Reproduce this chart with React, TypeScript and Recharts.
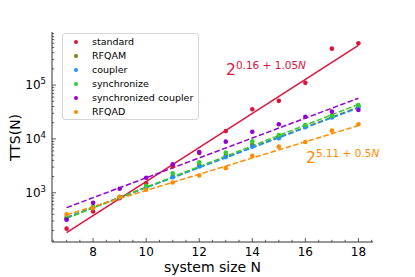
import { ComposedChart, Scatter, Line, XAxis, YAxis, Customized } from 'recharts';

const FONT = '"DejaVu Sans", sans-serif';

// system sizes N and measured time-to-solution values
const sizes = [7, 8, 9, 10, 11, 12, 13, 14, 15, 16, 17, 18];
const standard = [216, 450, 790, 1500, 3100, 5500, 14000, 35500, 51000, 110000, 475000, 600000];
const rfqam = [335, 540, 830, 1290, 2050, 3300, 4900, 7800, 11000, 17500, 27000, 40000];
const coupler = [321, 530, 820, 1250, 1950, 3070, 4600, 7200, 10300, 16500, 25000, 38000];
const synchronize = [350, 560, 830, 1350, 2300, 3700, 5600, 9000, 11800, 18200, 26700, 42500];
const synchronizedCoupler = [317, 650, 1190, 1900, 3400, 5700, 8900, 13600, 18700, 25900, 32100, 34400];
const rfqad = [398, 520, 840, 1140, 1550, 2090, 2870, 4840, 7200, 8800, 14250, 18800];

// fitted lines, value at N=7 and N=18
const fitSizes = [7, 18];
const standardFit = [182, 546000];
const rfqamFit = [350, 39000];
const couplerFit = [345, 37800];
const synchronizeFit = [335, 43800];
const synchronizedCouplerFit = [530, 57000];
const rfqadFit = [391, 17700];

const xTicks = [6.5, 7, 7.5, 8, 8.5, 9, 9.5, 10, 10.5, 11, 11.5, 12, 12.5, 13, 13.5, 14, 14.5, 15, 15.5, 16, 16.5, 17, 17.5, 18, 18.5];
const xLabels = [8, 10, 12, 14, 16, 18];
const yTicks = [
  200, 300, 400, 500, 600, 700, 800, 900,
  1000, 2000, 3000, 4000, 5000, 6000, 7000, 8000, 9000,
  10000, 20000, 30000, 40000, 50000, 60000, 70000, 80000, 90000,
  100000, 200000, 300000, 400000, 500000, 600000, 700000, 800000, 900000,
];
const yLabels = [1000, 10000, 100000];

const series = [
  { name: 'standard', color: '#dc143c', values: standard, fit: standardFit, dash: undefined },
  { name: 'RFQAM', color: '#808000', values: rfqam, fit: rfqamFit, dash: '5.5 2.4' },
  { name: 'coupler', color: '#1e90ff', values: coupler, fit: couplerFit, dash: '5.5 2.4' },
  { name: 'synchronize', color: '#32cd32', values: synchronize, fit: synchronizeFit, dash: '5.5 2.4' },
  { name: 'synchronized coupler', color: '#9400d3', values: synchronizedCoupler, fit: synchronizedCouplerFit, dash: '5.5 2.4' },
  { name: 'RFQAD', color: '#ff8c00', values: rfqad, fit: rfqadFit, dash: '5.5 2.4' },
];

const points = (vals: number[]) => sizes.map((n, i) => ({ n, v: vals[i] }));
const fitLine = (vals: number[]) => fitSizes.map((n, i) => ({ n, v: vals[i] }));

const PLOT_LEFT = 52;
const PLOT_BOTTOM = 242;

const XTick = (props: any) => {
  const { x, payload } = props;
  const major = xLabels.includes(payload.value);
  return (
    <g>
      <line x1={x} x2={x} y1={PLOT_BOTTOM} y2={PLOT_BOTTOM - (major ? 4 : 2.2)} stroke="#333" strokeWidth={0.8} />
      {major && (
        <text x={x} y={PLOT_BOTTOM + 14} textAnchor="middle" fontSize={12} fontFamily={FONT} fill="#000">
          {payload.value}
        </text>
      )}
    </g>
  );
};

const YTick = (props: any) => {
  const { y, payload } = props;
  const major = yLabels.includes(payload.value);
  const exp = Math.round(Math.log10(payload.value));
  return (
    <g>
      <line x1={PLOT_LEFT} x2={PLOT_LEFT + (major ? 4 : 2.2)} y1={y} y2={y} stroke="#333" strokeWidth={0.8} />
      {major && (
        <text x={46} y={y + 4} textAnchor="end" fontSize={12} fontFamily={FONT} fill="#000">
          10<tspan dy={-5} fontSize={8.5}>{exp}</tspan>
        </text>
      )}
    </g>
  );
};

const Annotations = () => (
  <g fontFamily={FONT}>
    <text x={226} y={75} fill="#dc143c" fontSize={15.5}>
      2<tspan dy={-6} fontSize={10.5}>0.16 + 1.05<tspan fontStyle="italic">N</tspan></tspan>
    </text>
    <text x={306} y={163} fill="#ff8c00" fontSize={15.5}>
      2<tspan dy={-6} fontSize={10.5}>5.11 + 0.5<tspan fontStyle="italic">N</tspan></tspan>
    </text>
    <text x={212.5} y={272} textAnchor="middle" fontSize={14} fill="#000">system size N</text>
    <text x={20} y={137.5} textAnchor="middle" fontSize={14} fill="#000" transform="rotate(-90 20 137.5)">TTS(N)</text>
  </g>
);

export default function App() {
  return (
    <div style={{ position: 'absolute', left: 0, top: 0, width: 415, height: 277, background: '#fff' }}>
      <ComposedChart width={415} height={277} margin={{ top: 32, right: 42, bottom: 33, left: 50 }}>
        <XAxis
          dataKey="n"
          type="number"
          domain={[6.45, 18.55]}
          ticks={xTicks}
          interval={0}
          height={2}
          tick={<XTick />}
          tickLine={false}
          axisLine={{ stroke: '#333', strokeWidth: 1 }}
          allowDataOverflow
        />
        <YAxis
          dataKey="v"
          scale="log"
          type="number"
          domain={[122, 968000]}
          ticks={yTicks}
          interval={0}
          width={2}
          tick={<YTick />}
          tickLine={false}
          axisLine={{ stroke: '#333', strokeWidth: 1 }}
          allowDataOverflow
        />
        {series.map((s) => (
          <Scatter
            key={`pts-${s.name}`}
            data={points(s.values)}
            dataKey="v"
            fill={s.color}
            isAnimationActive={false}
            shape={(p: any) => <circle cx={p.cx} cy={p.cy} r={2.3} fill={s.color} />}
          />
        ))}
        {series.map((s) => (
          <Line
            key={`fit-${s.name}`}
            data={fitLine(s.fit)}
            dataKey="v"
            stroke={s.color}
            strokeWidth={1.5}
            strokeDasharray={s.dash}
            dot={false}
            activeDot={false}
            isAnimationActive={false}
          />
        ))}
        <Customized component={<Annotations />} />
      </ComposedChart>
      <div
        style={{
          position: 'absolute', left: 62, top: 33, width: 135, height: 85,
          border: '1px solid #d6d6d6', borderRadius: 3, background: 'rgba(255,255,255,0.8)',
          fontFamily: FONT, fontSize: 9.5, color: '#000',
        }}
      >
        {series.map((s, i) => (
          <div key={s.name} style={{ position: 'absolute', left: 0, top: 1 + i * 14, height: 14, display: 'flex', alignItems: 'center' }}>
            <span style={{ position: 'absolute', left: 10.5, width: 4.6, height: 4.6, borderRadius: '50%', background: s.color }} />
            <span style={{ position: 'absolute', left: 29, whiteSpace: 'nowrap', lineHeight: '14px' }}>{s.name}</span>
          </div>
        ))}
      </div>
    </div>
  );
}
